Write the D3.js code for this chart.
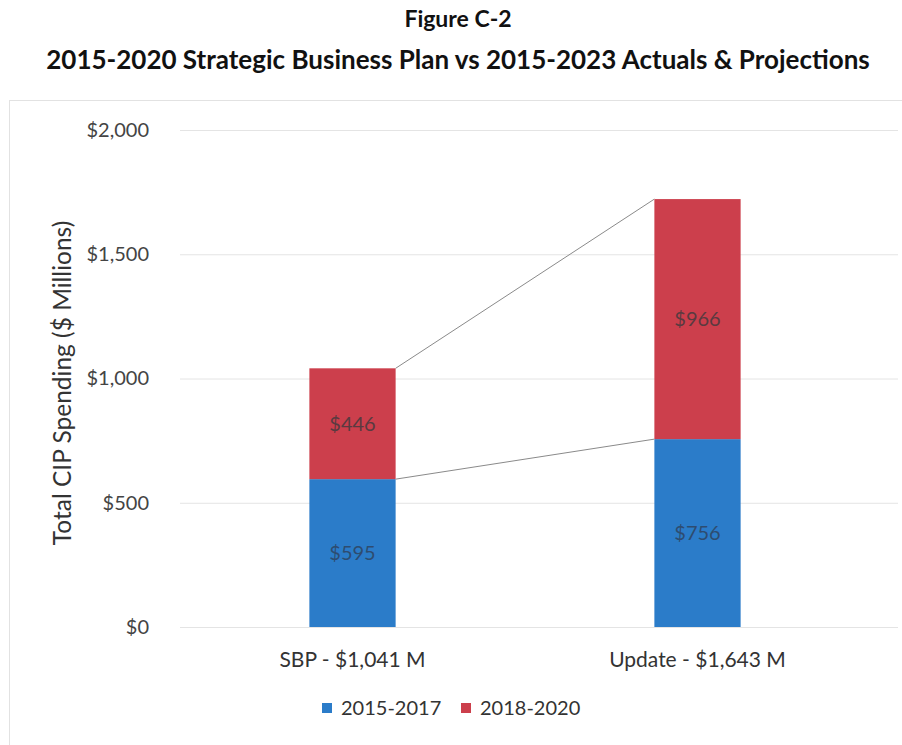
<!DOCTYPE html>
<html>
<head>
<meta charset="utf-8">
<script src="https://cdn.jsdelivr.net/npm/d3@7"></script>
<style>
  body { margin: 0; background: #fff; }
  svg { font-family: Lato, "Open Sans", sans-serif; }
</style>
</head>
<body>
<script>
const categories = ['SBP - $1,041 M', 'Update - $1,643 M']
const seriesNames = ['2015-2017', '2018-2020']
const early = [595, 756] // 2015-2017
const late = [446, 966] // 2018-2020
const yTicks = [0, 500, 1000, 1500, 2000]
const colors = ['#2b7cc9', '#cc3f4c']
const labelColors = ['#2e4c70', '#5a3a40']

const W = 902, H = 745
const svg = d3.select('body').append('svg').attr('width', W).attr('height', H)

// faint chart frame
svg.append('rect').attr('x', 9.5).attr('y', 100.5).attr('width', 900).attr('height', 700)
  .attr('fill', 'none').attr('stroke', '#e2e2e2')

svg.append('text').attr('x', 458).attr('y', 27).attr('text-anchor', 'middle')
  .attr('font-weight', 'bold').attr('font-size', 23).attr('fill', '#111').text('Figure C-2')
svg.append('text').attr('x', 458).attr('y', 69).attr('text-anchor', 'middle')
  .attr('font-weight', 'bold').attr('font-size', 26).attr('fill', '#111')
  .text('2015-2020 Strategic Business Plan vs 2015-2023 Actuals & Projections')

const x = d3.scaleBand().domain(categories).range([180, 870]).paddingInner(0.75).paddingOuter(0.375)
const y = d3.scaleLinear().domain([0, 2000]).range([627, 130])

// gridlines
svg.append('g').selectAll('line').data(yTicks).join('line')
  .attr('x1', 180).attr('x2', 898)
  .attr('y1', d => y(d) + 0.5).attr('y2', d => y(d) + 0.5)
  .attr('stroke', '#e4e4e4')

const yAxis = svg.append('g').attr('transform', 'translate(149,0)')
  .call(d3.axisLeft(y).tickValues(yTicks).tickSize(0).tickPadding(0).tickFormat(d => '$' + d3.format(',')(d)))
yAxis.select('.domain').remove()
yAxis.selectAll('text').attr('font-size', 20).attr('fill', '#444').attr('font-family', 'Lato, sans-serif')

svg.append('text').attr('transform', 'translate(71,383) rotate(-90)').attr('text-anchor', 'middle')
  .attr('font-size', 24.5).attr('fill', '#333').text('Total CIP Spending ($ Millions)')

const xAxis = svg.append('g').attr('transform', 'translate(0,660)')
  .call(d3.axisBottom(x).tickSize(0).tickPadding(0))
xAxis.select('.domain').remove()
xAxis.selectAll('text').attr('font-size', 21).attr('fill', '#333').attr('font-family', 'Lato, sans-serif')
  .attr('y', 0).attr('dy', '0.35em')

// stacked segments
const stacked = d3.stack().keys([0, 1]).value((d, k) => d[k])(categories.map((c, i) => [early[i], late[i]]))

// connector lines between bar segments
const bw = x.bandwidth()
stacked.forEach(layer => {
  svg.append('line')
    .attr('x1', x(categories[0]) + bw).attr('y1', y(layer[0][1]))
    .attr('x2', x(categories[1])).attr('y2', y(layer[1][1]))
    .attr('stroke', '#8a8a8a').attr('stroke-width', 1)
})

stacked.forEach((layer, k) => {
  const g = svg.append('g')
  g.selectAll('rect').data(layer).join('rect')
    .attr('x', (d, i) => x(categories[i]))
    .attr('width', bw)
    .attr('y', d => y(d[1]))
    .attr('height', d => y(d[0]) - y(d[1]))
    .attr('fill', colors[k])
  g.selectAll('text').data(layer).join('text')
    .attr('x', (d, i) => x(categories[i]) + bw / 2)
    .attr('y', d => y((d[0] + d[1]) / 2))
    .attr('dy', '0.35em').attr('text-anchor', 'middle')
    .attr('font-size', 20).attr('fill', labelColors[k])
    .text(d => '$' + (d[1] - d[0]))
})

// legend
const legendX = [322, 461]
const legend = svg.append('g').selectAll('g').data(seriesNames).join('g')
  .attr('transform', (d, i) => `translate(${legendX[i]},708)`)
legend.append('rect').attr('x', 0).attr('y', -5).attr('width', 10).attr('height', 10)
  .attr('fill', (d, i) => colors[i])
legend.append('text').attr('x', 19).attr('dy', '0.35em').attr('font-size', 20).attr('fill', '#333').text(d => d)
</script>
</body>
</html>
